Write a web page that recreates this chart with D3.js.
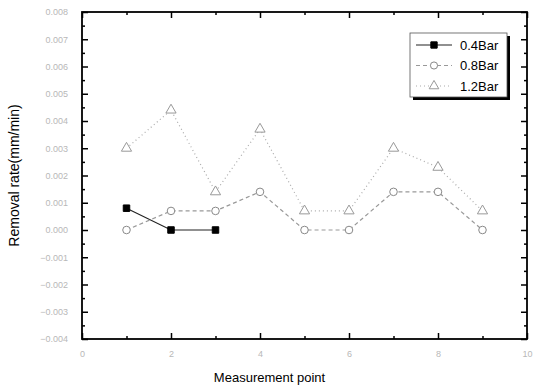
<!DOCTYPE html>
<html>
<head>
<meta charset="utf-8">
<script src="https://cdn.jsdelivr.net/npm/d3@7"></script>
<style>
  body { margin: 0; background: #fff; }
  svg { display: block; font-family: "Liberation Sans", Arial, sans-serif; }
</style>
</head>
<body>
<svg id="chart" width="533" height="390"></svg>
<script>
var xPoints = [1, 2, 3, 4, 5, 6, 7, 8, 9];
var bar04 = [0.0008, 0.0000, 0.0000];
var bar08 = [0.0000, 0.0007, 0.0007, 0.0014, 0.0000, 0.0000, 0.0014, 0.0014, 0.0000];
var bar12 = [0.0030, 0.0044, 0.0014, 0.0037, 0.0007, 0.0007, 0.0030, 0.0023, 0.0007];
var seriesNames = ["0.4Bar", "0.8Bar", "1.2Bar"];
var xTicks = [0, 2, 4, 6, 8, 10];
var yTicks = [0.008, 0.007, 0.006, 0.005, 0.004, 0.003, 0.002, 0.001, 0.000, -0.001, -0.002, -0.003, -0.004];

var margin = {top: 12, right: 6, bottom: 51, left: 82};
var svg = d3.select("#chart"),
    width = 533 - margin.left - margin.right,
    height = 390 - margin.top - margin.bottom,
    g = svg.append("g").attr("transform", "translate(" + margin.left + "," + margin.top + ")");

var x = d3.scaleLinear().domain([0, 10]).range([0, width]);
var y = d3.scaleLinear().domain([-0.004, 0.008]).range([height, 0]);

var fmt = d3.format(".3f");
var tickCol = "#b8b8b8";

// axes, ticks pointing inward
g.append("g")
  .attr("transform", "translate(0," + height + ")")
  .call(d3.axisBottom(x).tickValues(xTicks).tickSize(-6).tickPadding(12).tickFormat(d3.format("d")))
  .call(function(a) { a.select(".domain").remove(); });
g.append("g")
  .call(d3.axisBottom(x).tickValues(d3.range(1, 10, 2)).tickSize(-3).tickFormat(""))
  .attr("transform", "translate(0," + height + ")")
  .call(function(a) { a.select(".domain").remove(); });
g.append("g")
  .call(d3.axisTop(x).tickValues(xTicks).tickSize(-6).tickFormat(""))
  .call(function(a) { a.select(".domain").remove(); });
g.append("g")
  .call(d3.axisTop(x).tickValues(d3.range(1, 10, 2)).tickSize(-3).tickFormat(""))
  .call(function(a) { a.select(".domain").remove(); });

g.append("g")
  .call(d3.axisLeft(y).tickValues(yTicks).tickSize(-6).tickPadding(14).tickFormat(fmt))
  .call(function(a) { a.select(".domain").remove(); });
g.append("g")
  .call(d3.axisLeft(y).tickValues(d3.range(-0.0035, 0.008, 0.001)).tickSize(-3).tickFormat(""))
  .call(function(a) { a.select(".domain").remove(); });
g.append("g")
  .attr("transform", "translate(" + width + ",0)")
  .call(d3.axisRight(y).tickValues(yTicks).tickSize(-6).tickFormat(""))
  .call(function(a) { a.select(".domain").remove(); });
g.append("g")
  .attr("transform", "translate(" + width + ",0)")
  .call(d3.axisRight(y).tickValues(d3.range(-0.0035, 0.008, 0.001)).tickSize(-3).tickFormat(""))
  .call(function(a) { a.select(".domain").remove(); });

g.selectAll(".tick line").attr("stroke", "#000").attr("stroke-width", 1.5);
g.selectAll(".tick text").attr("fill", tickCol).attr("font-size", 9);

g.append("rect")
  .attr("width", width).attr("height", height)
  .attr("fill", "none").attr("stroke", "#000").attr("stroke-width", 1.8);

// series
var series = [
  {name: seriesNames[0], vals: bar04, line: "#222", dash: null, shape: "square", fill: "#000", stroke: "#000"},
  {name: seriesNames[1], vals: bar08, line: "#999", dash: "4,3", shape: "circle", fill: "#fff", stroke: "#888"},
  {name: seriesNames[2], vals: bar12, line: "#aaa", dash: "1,3", shape: "triangle", fill: "#fff", stroke: "#999"}
];

var line = d3.line()
  .x(function(d) { return x(d[0]); })
  .y(function(d) { return y(d[1]); });

var symType = {square: d3.symbolSquare, circle: d3.symbolCircle, triangle: d3.symbolTriangle};

series.forEach(function(s) {
  var pts = s.vals.map(function(v, i) { return [xPoints[i], v]; });
  g.append("path")
    .datum(pts)
    .attr("fill", "none")
    .attr("stroke", s.line)
    .attr("stroke-width", 1.2)
    .attr("stroke-dasharray", s.dash)
    .attr("d", line);
  g.selectAll(".pt-" + s.shape)
    .data(pts)
    .enter().append("path")
      .attr("transform", function(d) { return "translate(" + x(d[0]) + "," + y(d[1]) + ")"; })
      .attr("d", d3.symbol().type(symType[s.shape]).size(s.shape == "square" ? 42 : 45))
      .attr("fill", s.fill)
      .attr("stroke", s.stroke)
      .attr("stroke-width", 1);
});

// legend
var lg = g.append("g").attr("transform", "translate(" + (410 - margin.left) + "," + (33 - margin.top) + ")");
lg.append("rect").attr("x", 3).attr("y", 3).attr("width", 97).attr("height", 64).attr("fill", "#000");
lg.append("rect").attr("width", 97).attr("height", 64).attr("fill", "#fff").attr("stroke", "#555").attr("stroke-width", 0.8);

var item = lg.selectAll(".legend")
  .data(series)
  .enter().append("g")
    .attr("class", "legend")
    .attr("transform", function(d, i) { return "translate(0," + (12 + i * 20.5) + ")"; });
item.append("line")
  .attr("x1", 6).attr("x2", 42)
  .attr("stroke", function(d) { return d.line; })
  .attr("stroke-dasharray", function(d) { return d.dash; })
  .attr("stroke-width", 1.2);
item.append("path")
  .attr("transform", "translate(24,0)")
  .attr("d", function(d) { return d3.symbol().type(symType[d.shape]).size(40)(); })
  .attr("fill", function(d) { return d.fill; })
  .attr("stroke", function(d) { return d.stroke; });
item.append("text")
  .attr("x", 50).attr("dy", "0.35em")
  .attr("font-size", 13)
  .text(function(d) { return d.name; });

// axis titles
svg.append("text")
  .attr("transform", "translate(19," + (margin.top + height / 2) + ") rotate(-90)")
  .attr("text-anchor", "middle")
  .attr("font-size", 14)
  .text("Removal rate(mm/min)");
svg.append("text")
  .attr("x", margin.left + width / 2 - 35)
  .attr("y", 382)
  .attr("text-anchor", "middle")
  .attr("font-size", 13)
  .text("Measurement point");
</script>
</body>
</html>
